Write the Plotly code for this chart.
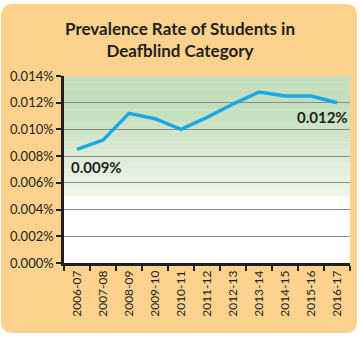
import plotly.graph_objects as go

years = ["2006-07", "2007-08", "2008-09", "2009-10", "2010-11", "2011-12",
         "2012-13", "2013-14", "2014-15", "2015-16", "2016-17"]
rates = [0.0085, 0.0092, 0.0112, 0.0108, 0.0100, 0.0109, 0.0119, 0.0128, 0.0125, 0.0125, 0.0120]
y_ticks = [0, 0.002, 0.004, 0.006, 0.008, 0.010, 0.012, 0.014]
y_tick_text = ["0.000%", "0.002%", "0.004%", "0.006%", "0.008%", "0.010%", "0.012%", "0.014%"]
title_text = "Prevalence Rate of Students in<br>Deafblind Category"
first_label = "0.009%"
last_label = "0.012%"

W, H = 361, 339
L, R, T, B = 64, 11, 76, 76
pw, ph = W - L - R, H - T - B

def px(x):
    return (x - L) / pw

def py(y):
    return (H - B - y) / ph

ORANGE = "#fdd28e"
DARK = "#231f20"

shapes = []
# rounded orange panel
x0, x1, y0, y1 = px(1), px(357), py(333), py(4)
rx, ry = 12 / pw, 12 / ph
path = (f"M {x0+rx},{y1} L {x1-rx},{y1} Q {x1},{y1} {x1},{y1-ry} "
        f"L {x1},{y0+ry} Q {x1},{y0} {x1-rx},{y0} L {x0+rx},{y0} "
        f"Q {x0},{y0} {x0},{y0+ry} L {x0},{y1-ry} Q {x0},{y1} {x0+rx},{y1} Z")
shapes.append(dict(type="path", path=path, xref="paper", yref="paper",
                   fillcolor=ORANGE, line=dict(width=0), layer="below"))
# white plot area
shapes.append(dict(type="rect", xref="paper", yref="paper", x0=0, x1=1, y0=0, y1=1,
                   fillcolor="white", line=dict(width=0), layer="below"))

# green gradient (0.005 -> 0.014)
top = (194, 222, 188)
bot = (240, 246, 235)
n = 18
g0, g1 = 0.005, 0.014
for i in range(n):
    a = g0 + (g1 - g0) * i / n
    b = g0 + (g1 - g0) * (i + 1) / n
    t = min(1.0, ((i + 0.5) / n) * 1.35)
    c = tuple(int(round(bot[k] + (top[k] - bot[k]) * t)) for k in range(3))
    shapes.append(dict(type="rect", xref="paper", yref="y", x0=0, x1=1, y0=a, y1=b,
                       fillcolor=f"rgb{c}", line=dict(width=0), layer="below"))

fig = go.Figure()
fig.add_trace(go.Scatter(x=years, y=rates, mode="lines",
                         line=dict(color="#1ba9e6", width=3.5), hoverinfo="skip"))

fig.update_layout(
    width=W, height=H,
    margin=dict(l=L, r=R, t=T, b=B, pad=0),
    paper_bgcolor="white",
    plot_bgcolor="rgba(0,0,0,0)",
    showlegend=False,
    shapes=shapes,
    font=dict(family="Lato, Open Sans, sans-serif", color=DARK, size=12),
    annotations=[
        dict(text=title_text, xref="paper", yref="paper", x=px(180), y=py(40),
             xanchor="center", yanchor="middle", showarrow=False,
             font=dict(size=17, color=DARK, family="Lato, Open Sans, sans-serif", weight="bold")),
        dict(text=first_label, x=years[0], y=0.0072, xanchor="left", yanchor="middle",
             xshift=-8, showarrow=False,
             font=dict(size=15, color=DARK, weight="bold")),
        dict(text=last_label, x=years[-1], y=0.0109, xanchor="right", yanchor="middle",
             xshift=13, showarrow=False,
             font=dict(size=15, color=DARK, weight="bold")),
    ],
)
fig.update_xaxes(type="category", tickangle=-90, tickson="boundaries",
                 ticks="outside", ticklen=5, tickwidth=1.5, tickcolor=DARK,
                 showline=True, linecolor=DARK, linewidth=2.5,
                 showgrid=False, tickfont=dict(size=12, color=DARK),
                 range=[-0.5, len(years) - 0.5], fixedrange=True)
fig.update_yaxes(range=[0, 0.014], tickmode="array", tickvals=y_ticks, ticktext=y_tick_text,
                 ticks="outside", ticklen=5, tickwidth=1.5, tickcolor=DARK,
                 showline=True, linecolor=DARK, linewidth=2.5,
                 showgrid=True, gridcolor="#8c8c8c", gridwidth=1, zeroline=False,
                 tickfont=dict(size=13, color=DARK), fixedrange=True)

fig.write_html("out.html", config={"displayModeBar": False})
